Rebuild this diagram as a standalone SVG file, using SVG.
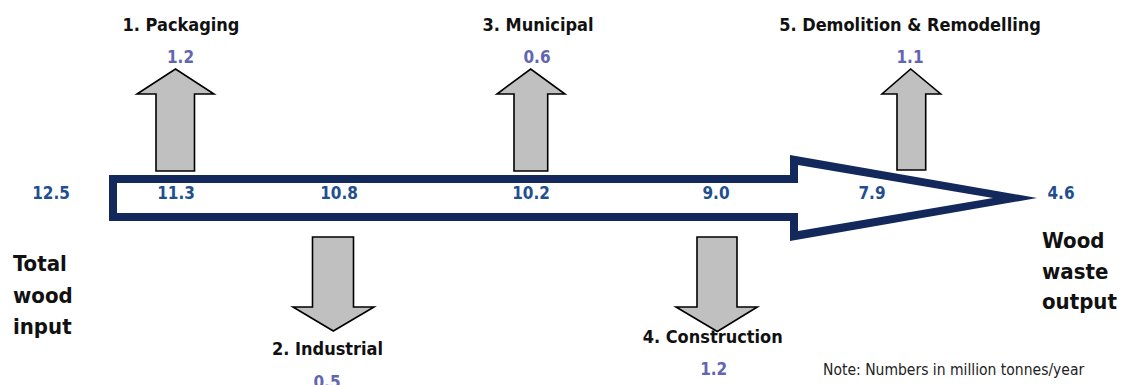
<svg xmlns="http://www.w3.org/2000/svg" width="1127" height="385" viewBox="0 0 1127 385">
  <style>
    text { font-family: "DejaVu Sans Condensed", "DejaVu Sans", sans-serif; font-stretch: condensed; }
    .head { font-size: 18px; font-weight: bold; fill: #111111; text-anchor: middle; }
    .side { font-size: 22px; font-weight: bold; fill: #111111; }
    .flow { font-size: 17px; font-weight: bold; fill: #1f4f8f; text-anchor: middle; }
    .part { font-size: 17px; font-weight: bold; fill: #6266b0; text-anchor: middle; }
    .note { font-size: 15.5px; fill: #222222; }
    .branch { fill: #c0c0c0; stroke: #000000; stroke-width: 1.6; stroke-linejoin: miter; }
    .trunk { fill: #13295b; fill-rule: evenodd; }
  </style>

  <!-- main flow: hollow arrow drawn as outer outline minus inner outline -->
  <g id="connectors">
    <path class="trunk" d="M109,175 L790,175 L790,155 L1037,198 L790,241 L790,221 L109,221 Z
                           M117,183 L117,213 L798,213 L798,231 L993,198 L798,165 L798,183 Z"/>
  </g>

  <!-- branch arrows -->
  <g id="packaging">
    <polygon class="branch" points="156,171 156,94 137,94 175.5,69 214,94 194.5,94 194.5,171"/>
    <text class="head" x="181" y="31">1. Packaging</text>
    <text class="part" x="180.5" y="63">1.2</text>
  </g>
  <g id="industrial">
    <polygon class="branch" points="312.5,237 353.5,237 353.5,307 374,307 333.3,331 293,307 312.5,307"/>
    <text class="head" x="327.5" y="354.5">2. Industrial</text>
    <text class="part" x="327" y="388">0.5</text>
  </g>
  <g id="municipal">
    <polygon class="branch" points="514,171 514,94 497,94 530.7,69 565,94 547.7,94 547.7,171"/>
    <text class="head" x="538" y="31">3. Municipal</text>
    <text class="part" x="537" y="63">0.6</text>
  </g>
  <g id="construction">
    <polygon class="branch" points="697,237 737,237 737,307 757.3,307 717.3,331.5 676,307 697,307"/>
    <text class="head" x="712.7" y="343">4. Construction</text>
    <text class="part" x="713.7" y="375">1.2</text>
  </g>
  <g id="demolition">
    <polygon class="branch" points="897,170 897,94 882,94 910.7,69 940.7,94 925.7,94 925.7,170"/>
    <text class="head" x="910" y="31">5. Demolition &amp; Remodelling</text>
    <text class="part" x="910" y="63">1.1</text>
  </g>

  <!-- running totals along the flow -->
  <g id="totals">
    <text class="flow" x="51" y="199">12.5</text>
    <text class="flow" x="176" y="199">11.3</text>
    <text class="flow" x="339" y="199">10.8</text>
    <text class="flow" x="531" y="199">10.2</text>
    <text class="flow" x="716" y="199">9.0</text>
    <text class="flow" x="872" y="199">7.9</text>
    <text class="flow" x="1061" y="199">4.6</text>
  </g>

  <g id="input">
    <text class="side" x="13" y="271">Total</text>
    <text class="side" x="13" y="303">wood</text>
    <text class="side" x="13" y="334">input</text>
  </g>
  <g id="output">
    <text class="side" x="1042" y="247.5">Wood</text>
    <text class="side" x="1042" y="278.5">waste</text>
    <text class="side" x="1042" y="309">output</text>
  </g>

  <text class="note" x="823" y="375">Note: Numbers in million tonnes/year</text>
</svg>
